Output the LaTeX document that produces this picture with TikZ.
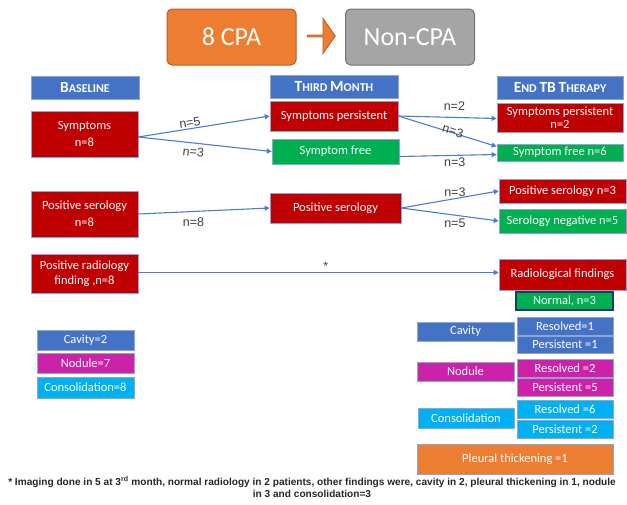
\documentclass[tikz,border=0pt]{standalone}
\usepackage{fontspec}
\setmainfont{Carlito}
\newfontfamily\labelfont{Liberation Sans}
\usetikzlibrary{positioning}
\usetikzlibrary{arrows.meta}
\usetikzlibrary{shapes.arrows}

\definecolor{hdrblue}{HTML}{4472C4}
\definecolor{boxred}{HTML}{C00000}
\definecolor{boxgreen}{HTML}{00B050}
\definecolor{boxmagenta}{HTML}{CC22AA}
\definecolor{boxcyan}{HTML}{00B0F0}
\definecolor{boxorange}{HTML}{ED7D31}
\definecolor{boxgray}{HTML}{A5A5A5}
\definecolor{boxedge}{HTML}{8EA6CF}
\definecolor{flowblue}{HTML}{4A7DD0}
\definecolor{navyedge}{HTML}{203864}

\newcommand{\hcap}[1]{{\fontsize{15.5}{15}\selectfont #1}}

\tikzset{
  box/.style={draw=boxedge, line width=0.6pt, text=white, align=center, inner sep=0.5pt,
    font=\fontsize{12.5}{13}\selectfont},
  hdrbox/.style={box, fill=hdrblue, font=\bfseries\fontsize{12}{13}\selectfont},
  redbox/.style={box, fill=boxred},
  greenbox/.style={box, fill=boxgreen},
  bluebox/.style={box, fill=hdrblue},
  magbox/.style={box, fill=boxmagenta},
  cyanbox/.style={box, fill=boxcyan},
  orangebox/.style={box, fill=boxorange},
  topbox/.style={rounded corners=5pt, line width=1pt, text=white, inner sep=0pt,
    minimum width=129, minimum height=56, font=\fontsize{26}{28}\selectfont},
  flow/.style={draw=flowblue, line width=1.1pt, -{Triangle[length=5pt,width=5pt]}},
  count/.style={font=\labelfont\fontsize{12.5}{13}\selectfont, text=black!75, inner sep=1pt},
}

\begin{document}
\begin{tikzpicture}[x=1pt, y=-1pt]
  \useasboundingbox (0,0) rectangle (627,504);

  \node[topbox, fill=boxorange, draw=boxorange!75!black] (cpa) at (231.5,37) {8 CPA};
  \node[topbox, fill=boxgray, draw=boxgray!70!black] (noncpa) at (410,37) {Non-CPA};
  \node[single arrow, fill=boxorange, draw=boxorange!75!black, line width=0.8pt,
    minimum height=28, minimum width=35, single arrow head extend=7pt,
    single arrow tip angle=110, inner sep=0pt] (cpaarrow) at (321,36) {};

  \node[hdrbox, minimum width=108, minimum height=23] (hbase) at (85,87.5) {\hcap{B}ASELINE};
  \node[hdrbox, minimum width=128, minimum height=23] (hthird) at (334,86.5) {\hcap{T}HIRD \hcap{M}ONTH};
  \node[hdrbox, minimum width=126, minimum height=23] (hend) at (560,87.5) {\hcap{E}ND \hcap{TB} \hcap{T}HERAPY};

  \node[redbox, minimum width=107, minimum height=46, font=\fontsize{12.5}{17}\selectfont] (symb) at (84.5,134) {Symptoms\\n=8};
  \node[redbox, minimum width=107, minimum height=46, font=\fontsize{12.5}{17}\selectfont] (serb) at (84.5,214) {Positive serology\\n=8};
  \node[redbox, minimum width=107, minimum height=39, font=\fontsize{12.5}{15}\selectfont] (radb) at (84.5,273.5) {Positive radiology\\finding ,n=8};

  \node[redbox, minimum width=128, minimum height=30] (sympm) at (334,116) {Symptoms persistent};
  \node[greenbox, minimum width=127, minimum height=25] (freem) at (335.5,151.5) {Symptom free};
  \node[redbox, minimum width=131, minimum height=30] (serm) at (335.5,208) {Positive serology};

  \node[redbox, minimum width=126, minimum height=29, font=\fontsize{12.5}{13}\selectfont] (sympe) at (560,117.5) {Symptoms persistent\\n=2};
  \node[greenbox, minimum width=126, minimum height=17] (freee) at (560,152.5) {Symptom free n=6};
  \node[redbox, minimum width=127, minimum height=24] (sere) at (562.5,191) {Positive serology n=3};
  \node[greenbox, minimum width=127, minimum height=24] (nege) at (562.5,221) {Serology negative n=5};
  \node[redbox, minimum width=127, minimum height=31] (rade) at (562.5,274.5) {Radiological findings};
  \node[greenbox, draw=navyedge, line width=1.2pt, minimum width=97, minimum height=18] (normal) at (564.5,301) {Normal, n=3};

  \node[bluebox, minimum width=97, minimum height=19] (cav) at (465.5,331.5) {Cavity};
  \node[bluebox, minimum width=96, minimum height=18] (cavres) at (565,326) {Resolved=1};
  \node[bluebox, minimum width=96, minimum height=17] (cavper) at (565,344.5) {Persistent =1};
  \node[magbox, minimum width=97, minimum height=19] (nod) at (465.5,371.5) {Nodule};
  \node[magbox, minimum width=96, minimum height=18] (nodres) at (565,368) {Resolved =2};
  \node[magbox, minimum width=96, minimum height=18] (nodper) at (565,387) {Persistent =5};
  \node[cyanbox, minimum width=96, minimum height=20] (con) at (466,418) {Consolidation};
  \node[cyanbox, minimum width=96, minimum height=18] (conres) at (565,409) {Resolved =6};
  \node[cyanbox, minimum width=96, minimum height=18] (conper) at (565,429) {Persistent =2};
  \node[orangebox, minimum width=196, minimum height=30] (pleu) at (515,459) {Pleural thickening =1};

  \node[bluebox, minimum width=97, minimum height=20] (lcav) at (85.5,340) {Cavity=2};
  \node[magbox, minimum width=97, minimum height=20] (lnod) at (85.5,363) {Nodule=7};
  \node[cyanbox, minimum width=97, minimum height=21] (lcon) at (85.5,387.5) {Consolidation=8};

  \draw[flow] ([yshift=-3pt]symb.east) -- node[count, above, sloped, pos=0.4] {n=5} (sympm.west);
  \draw[flow] ([yshift=-3pt]symb.east) -- node[count, below=3pt, sloped, pos=0.42] {n=3} (freem.west);
  \draw[flow] (serb.east) -- node[count, below=5pt, pos=0.42] {n=8} (serm.west);
  \draw[flow] (sympm.east) -- node[count, above=5pt, pos=0.57] {n=2} ([yshift=-1pt]sympe.west);
  \draw[flow] (sympm.east) -- node[count, above=-4pt, sloped, pos=0.55] {n=3} ([yshift=6pt]freee.west);
  \draw[flow] ([yshift=-5pt]freem.east) -- node[count, below=1pt, pos=0.57] {n=3} ([yshift=-2pt]freee.west);
  \draw[flow] (serm.east) -- node[count, above, pos=0.55] {n=3} (sere.west);
  \draw[flow] (serm.east) -- node[count, below=2pt, pos=0.55] {n=5} (nege.west);
  \draw[flow] ([yshift=1pt]radb.east) -- node[count, above, pos=0.52] {*} ([yshift=2pt]rade.west);

  \node[font=\labelfont\bfseries\fontsize{10.1}{12}\selectfont, text=black!85, align=center] (foot) at (312,487)
    {* Imaging done in 5 at 3\textsuperscript{rd} month, normal radiology in 2 patients, other findings were, cavity in 2, pleural thickening in 1, nodule\\in 3 and consolidation=3};
\end{tikzpicture}
\end{document}
